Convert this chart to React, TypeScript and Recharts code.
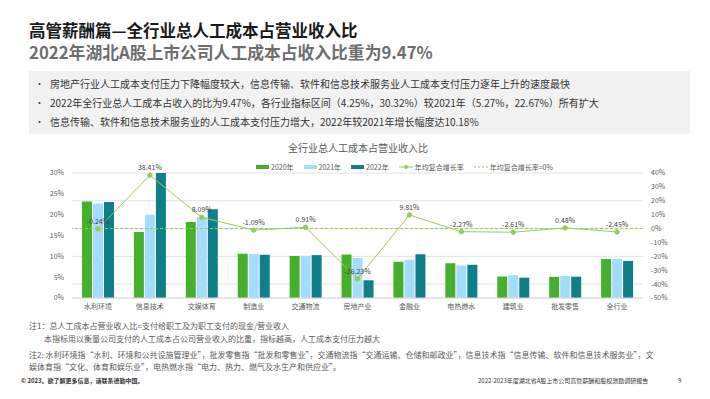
import React from 'react';
import {
  ComposedChart,
  Bar,
  Line,
  XAxis,
  YAxis,
  CartesianGrid,
  ReferenceLine,
  LabelList,
} from 'recharts';

const categories = ['水利环境', '信息技术', '文娱体育', '制造业', '交通物流', '房地产业', '金融业', '电热燃水', '建筑业', '批发零售', '全行业'];
const ratio2020 = [23.15, 15.83, 18.25, 10.62, 10.1, 10.45, 8.7, 8.35, 5.15, 5.07, 9.35];
const ratio2021 = [22.67, 20.0, 19.46, 10.55, 10.15, 9.6, 9.2, 7.8, 5.47, 5.27, 9.38];
const ratio2022 = [23.04, 30.32, 21.33, 10.4, 10.29, 4.25, 10.49, 7.97, 4.88, 5.12, 8.9];
const cagr = [-0.24, 38.41, 8.09, -1.09, 0.91, -36.23, 9.81, -2.27, -2.61, 0.48, -2.45];

const leftTicks = [0, 5, 10, 15, 20, 25, 30];
const rightTicks = [-50, -40, -30, -20, -10, 0, 10, 20, 30, 40];

const bullets = [
  '房地产行业人工成本支付压力下降幅度较大，信息传输、软件和信息技术服务业人工成本支付压力逐年上升的速度最快',
  '2022年全行业总人工成本占收入的比为9.47%，各行业指标区间（4.25%，30.32%）较2021年（5.27%，22.67%）所有扩大',
  '信息传输、软件和信息技术服务业的人工成本支付压力增大，2022年较2021年增长幅度达10.18%',
];

const data = categories.map((name, i) => ({
  name,
  y2020: ratio2020[i],
  y2021: ratio2021[i],
  y2022: ratio2022[i],
  cagr: cagr[i],
}));

const FONT = '"Noto Sans CJK SC", "Noto Sans", sans-serif';
const GREEN = '#45B02E';
const LIGHT_BLUE = '#A6DCFB';
const TEAL = '#0F7F8A';
const LINE_GREEN = '#98CB5C';

const abs = (left: number, top: number, extra: React.CSSProperties = {}): React.CSSProperties => ({
  position: 'absolute',
  left,
  top,
  whiteSpace: 'nowrap',
  ...extra,
});

function ChartLegend() {
  const text: React.CSSProperties = { fontSize: 7, color: '#595959', marginLeft: 2, marginRight: 10 };
  const item: React.CSSProperties = { display: 'flex', alignItems: 'center' };
  return (
    <div style={abs(256, 161, { display: 'flex', alignItems: 'center', height: 12 })}>
      {[
        { label: '2020年', color: GREEN },
        { label: '2021年', color: LIGHT_BLUE },
        { label: '2022年', color: TEAL },
      ].map((d) => (
        <div key={d.label} style={item}>
          <div style={{ width: 13, height: 4, background: d.color }} />
          <span style={text}>{d.label}</span>
        </div>
      ))}
      <div style={item}>
        <svg width={14} height={6}>
          <line x1={0} y1={3} x2={14} y2={3} stroke={LINE_GREEN} strokeWidth={1} />
          <circle cx={7} cy={3} r={2} fill={LINE_GREEN} />
        </svg>
        <span style={text}>年均复合增长率</span>
      </div>
      <div style={item}>
        <svg width={14} height={6}>
          <line x1={0} y1={3} x2={14} y2={3} stroke={LINE_GREEN} strokeWidth={1} strokeDasharray="2 2" />
        </svg>
        <span style={text}>年均复合增长率=0%</span>
      </div>
    </div>
  );
}

export default function App() {
  return (
    <div
      style={{
        position: 'fixed',
        left: 0,
        top: 0,
        width: 710,
        height: 399,
        background: '#fff',
        fontFamily: FONT,
        overflow: 'hidden',
      }}
    >
      <div style={abs(29, 19, { fontSize: 16.5, fontWeight: 700, color: '#1a1a1a', lineHeight: '22px' })}>
        高管薪酬篇—全行业总人工成本占营业收入比
      </div>
      <div style={abs(29, 41, { fontSize: 16.8, fontWeight: 700, color: '#6e6e6e', lineHeight: '22px' })}>
        2022年湖北A股上市公司人工成本占收入比重为9.47%
      </div>

      <div style={abs(29, 71, { width: 661, height: 63, background: '#F2F2F2' })} />
      {bullets.map((b, i) => (
        <React.Fragment key={i}>
          <div style={abs(35, 77 + i * 19, { fontSize: 9, color: '#333', lineHeight: '14px' })}>•</div>
          <div style={abs(50, 77 + i * 19, { fontSize: 10, color: '#333', lineHeight: '14px' })}>{b}</div>
        </React.Fragment>
      ))}

      <div style={abs(0, 141, { width: 716, textAlign: 'center', fontSize: 10, color: '#595959', lineHeight: '14px' })}>
        全行业总人工成本占营业收入比
      </div>
      <ChartLegend />

      <div style={abs(0, 140)}>
        <ComposedChart
          width={710}
          height={180}
          data={data}
          margin={{ top: 33, right: 0, bottom: 0, left: 0 }}
          barGap={1}
          barCategoryGap="21%"
        >
          <CartesianGrid yAxisId="right" vertical={false} stroke="#E3E3E3" strokeWidth={1} />
          <XAxis
            dataKey="name"
            height={22}
            interval={0}
            tickLine={false}
            axisLine={{ stroke: '#D9D9D9' }}
            tick={{ fontSize: 7, fill: '#595959' }}
            tickMargin={0}
          />
          <YAxis
            yAxisId="left"
            orientation="left"
            width={72}
            domain={[0, 30]}
            ticks={leftTicks}
            allowDataOverflow
            tickLine={false}
            axisLine={false}
            tick={{ fontSize: 7, fill: '#595959' }}
            tickFormatter={(v) => `${v}%`}
          />
          <YAxis
            yAxisId="right"
            orientation="right"
            width={67}
            domain={[-50, 40]}
            ticks={rightTicks}
            tickLine={false}
            axisLine={false}
            tick={{ fontSize: 7, fill: '#595959' }}
            tickFormatter={(v) => `${v}%`}
          />
          <ReferenceLine yAxisId="right" y={0} stroke={LINE_GREEN} strokeDasharray="3 2" strokeWidth={1} />
          <Bar yAxisId="left" dataKey="y2020" fill={GREEN} barSize={10} isAnimationActive={false} />
          <Bar yAxisId="left" dataKey="y2021" fill={LIGHT_BLUE} barSize={10} isAnimationActive={false} />
          <Bar yAxisId="left" dataKey="y2022" fill={TEAL} barSize={10} isAnimationActive={false} />
          <Line
            yAxisId="right"
            dataKey="cagr"
            stroke={LINE_GREEN}
            strokeWidth={1}
            dot={{ r: 2.2, fill: LINE_GREEN, stroke: LINE_GREEN, strokeWidth: 1 }}
            activeDot={false}
            isAnimationActive={false}
          >
            <LabelList
              dataKey="cagr"
              position="top"
              offset={5}
              fontSize={7}
              fill="#404040"
              formatter={(v: number) => `${v.toFixed(2)}%`}
            />
          </Line>
        </ComposedChart>
      </div>

      <div style={abs(29, 319, { fontSize: 8, color: '#595959', lineHeight: '13px' })}>
        注1：总人工成本占营业收入比=支付给职工及为职工支付的现金/营业收入
      </div>
      <div style={abs(44, 332, { fontSize: 8, color: '#595959', lineHeight: '13px' })}>
        本指标用以衡量公司支付的人工成本占公司营业收入的比重，指标越高，人工成本支付压力越大
      </div>
      <div style={abs(29, 348, { fontSize: 8, color: '#595959', lineHeight: '13px' })}>
        注2: 水利环境指“水利、环境和公共设施管理业”，批发零售指“批发和零售业”，交通物流指“交通运输、仓储和邮政业”，信息技术指“信息传输、软件和信息技术服务业”，文
      </div>
      <div style={abs(29, 360, { fontSize: 8, color: '#595959', lineHeight: '13px' })}>
        娱体育指“文化、体育和娱乐业”，电热燃水指“电力、热力、燃气及水生产和供应业”。
      </div>
      <div style={abs(21, 376, { fontSize: 6, fontWeight: 700, color: '#333', lineHeight: '10px' })}>
        © 2023。欲了解更多信息，请联系德勤中国。
      </div>
      <div style={abs(478, 376, { fontSize: 6, color: '#333', lineHeight: '10px' })}>
        2022-2023年度湖北省A股上市公司高管薪酬和股权激励调研报告
      </div>
      <div style={abs(678, 376, { fontSize: 6, color: '#333', lineHeight: '10px' })}>9</div>
    </div>
  );
}
